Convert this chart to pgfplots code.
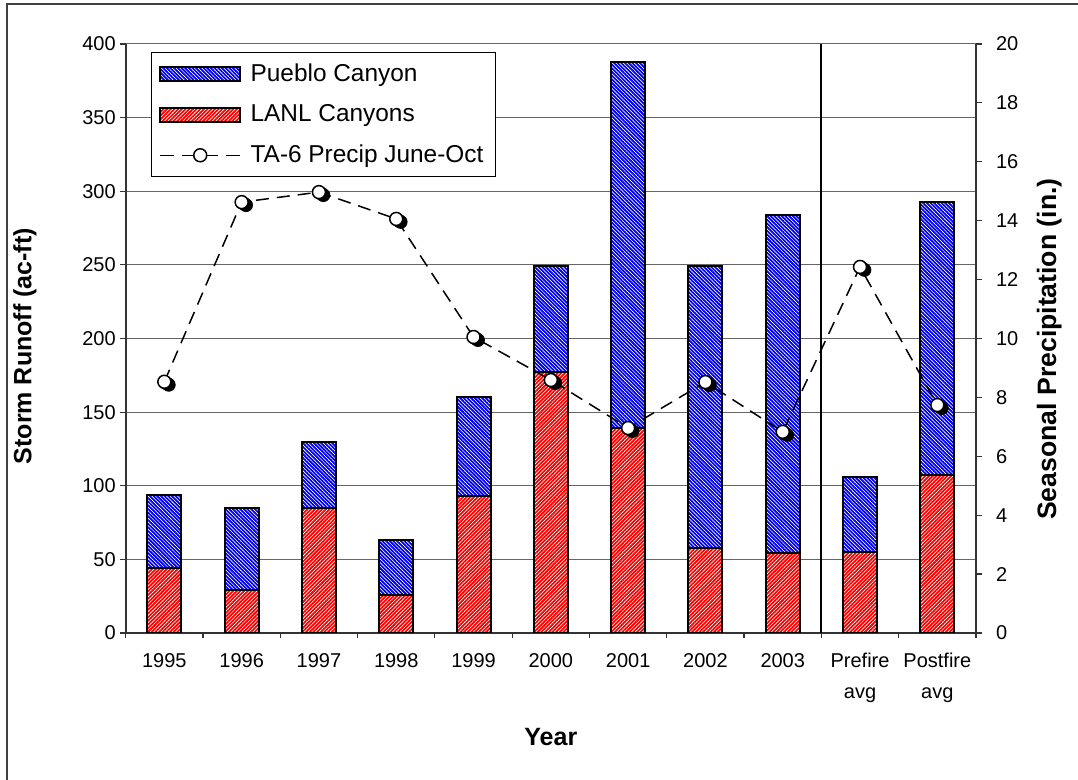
\documentclass[border=0pt]{standalone}
\usepackage{pgfplots}
\pgfplotsset{compat=1.18}
\usepackage{pgfplotstable}
\usepackage{fontspec}
\setmainfont{Liberation Sans}
\usetikzlibrary{patterns.meta}

\pgfplotsset{
  boxlegend/.style={legend image code/.code={\draw[##1] (0pt,-3.5pt) rectangle (40pt,3.5pt);}},
  linelegend/.style={legend image code/.code={
    \draw[black, line width=0.75pt, dash pattern=on 7pt off 4pt] (0pt,0pt) -- (20pt,0pt);
    \draw[black, line width=0.75pt, dash pattern=on 7pt off 4pt] (40pt,0pt) -- (20pt,0pt);
    \draw[black, line width=0.75pt, fill=white] (20pt,0pt) circle (3.25pt);}},
}

\pgfplotstableread{
x lanl pueblo precip
0 44 50 8.53
1 29 56 14.63
2 85 45 14.97
3 26 37 14.06
4 93 67 10.05
5 177 72 8.59
6 139 249 6.96
7 58 191 8.52
8 54 230 6.83
9 55 51 12.43
10 107 186 7.74
}\datatable

\begin{document}
\begin{tikzpicture}
\begin{axis}[
  name=ax,
  scale only axis, width=425.15pt, height=294.5pt,
  ybar stacked, bar width=17pt,
  xmin=-0.5, xmax=10.5, ymin=0, ymax=400,
  ytick={0,50,...,400},
  xtick={0,...,10},
  xticklabels={1995,1996,1997,1998,1999,2000,2001,2002,2003,{Prefire\\avg},{Postfire\\avg}},
  major x tick style={draw=none},
  minor xtick={-0.5,0.5,...,10.5},
  minor tick length=2.5pt, major tick length=3pt,
  tick align=outside,
  tick style={black!80, line width=0.6pt},
  axis x line*=bottom, axis y line*=left,
  axis line style={black!80, line width=1pt},
  ymajorgrids, major grid style={black!60, line width=0.5pt},
  /pgf/number format/assume math mode=true,
  tick label style={font=\fontsize{10}{15.5}\selectfont},
  x tick label style={align=center, anchor=north, yshift=-3.5pt},
  y tick label style={xshift=1.5pt},
  ylabel={Storm Runoff (ac-ft)},
  xlabel={Year},
  label style={font=\fontsize{12.5}{15}\bfseries},
  ylabel style={at={(axis description cs:-0.1184,0.487)}, anchor=center},
  xlabel style={at={(axis description cs:0.5,-0.1766)}, anchor=center},
  legend style={at={(rel axis cs:0.0298,0.9864)}, anchor=north west,
    draw=black, line width=0.6pt, font=\fontsize{12.2}{14}\selectfont,
    nodes={inner xsep=2.2pt, inner ysep=2pt},
    /tikz/every odd column/.append style={column sep=2.5pt},
    row sep=6.2pt, inner xsep=3.8pt, inner ysep=3.4pt},
  legend cell align=left,
  reverse legend,
]
\addlegendimage{linelegend}
\addlegendentry{TA-6 Precip June-Oct}
\addplot[draw=none, preaction={fill=white},
  pattern={Lines[angle=45,distance=1.3pt,line width=0.72pt]}, pattern color=red,
  postaction={draw=black, line width=1pt}, boxlegend]
  table[x=x, y=lanl]{\datatable};
\addlegendentry{LANL Canyons}
\addplot[draw=none, preaction={fill=white},
  pattern={Lines[angle=-45,distance=1.3pt,line width=0.72pt]}, pattern color=blue,
  postaction={draw=black, line width=1pt}, boxlegend]
  table[x=x, y=pueblo]{\datatable};
\addlegendentry{Pueblo Canyon}
\draw[black, line width=0.9pt] (axis cs:8.5,0) -- (axis cs:8.5,400);
\end{axis}
\begin{axis}[
  scale only axis, width=425.15pt, height=294.5pt,
  xmin=-0.5, xmax=10.5, ymin=0, ymax=20,
  ytick={0,2,...,20},
  axis y line*=right, axis x line=none,
  axis line style={black!80, line width=1pt},
  tick align=outside, major tick length=3pt,
  tick style={black!80, line width=0.6pt},
  /pgf/number format/assume math mode=true,
  tick label style={font=\fontsize{10}{12}\selectfont},
  y tick label style={xshift=3.5pt},
  ylabel={Seasonal Precipitation (in.)},
  label style={font=\fontsize{13.3}{15}\bfseries},
  ylabel style={at={(axis description cs:1.086,0.482)}, anchor=center},
]
\addplot[black, only marks, mark=*, mark size=3.25pt, mark options={xshift=2.2pt, yshift=-1.5pt}]
  table[x=x, y=precip]{\datatable};
\addplot[black, only marks, mark=*, mark size=3.25pt, mark options={xshift=1.1pt, yshift=-0.75pt}]
  table[x=x, y=precip]{\datatable};
\addplot[black, line width=0.75pt, dash pattern=on 6.5pt off 4pt,
  mark=*, mark size=3.25pt, mark options={solid, fill=white, line width=0.75pt}]
  table[x=x, y=precip]{\datatable};
\end{axis}
\draw[black!75, line width=0.9pt]
  ([shift={(-59.35pt,-73.5pt)}]ax.south west) -- ([shift={(-59.35pt,314.5pt)}]ax.south west)
  -- ([shift={(476.15pt,314.5pt)}]ax.south west);
\pgfresetboundingbox
\useasboundingbox ([shift={(-62.85pt,-73.5pt)}]ax.south west) rectangle ([shift={(476.15pt,316.5pt)}]ax.south west);
\end{tikzpicture}
\end{document}
